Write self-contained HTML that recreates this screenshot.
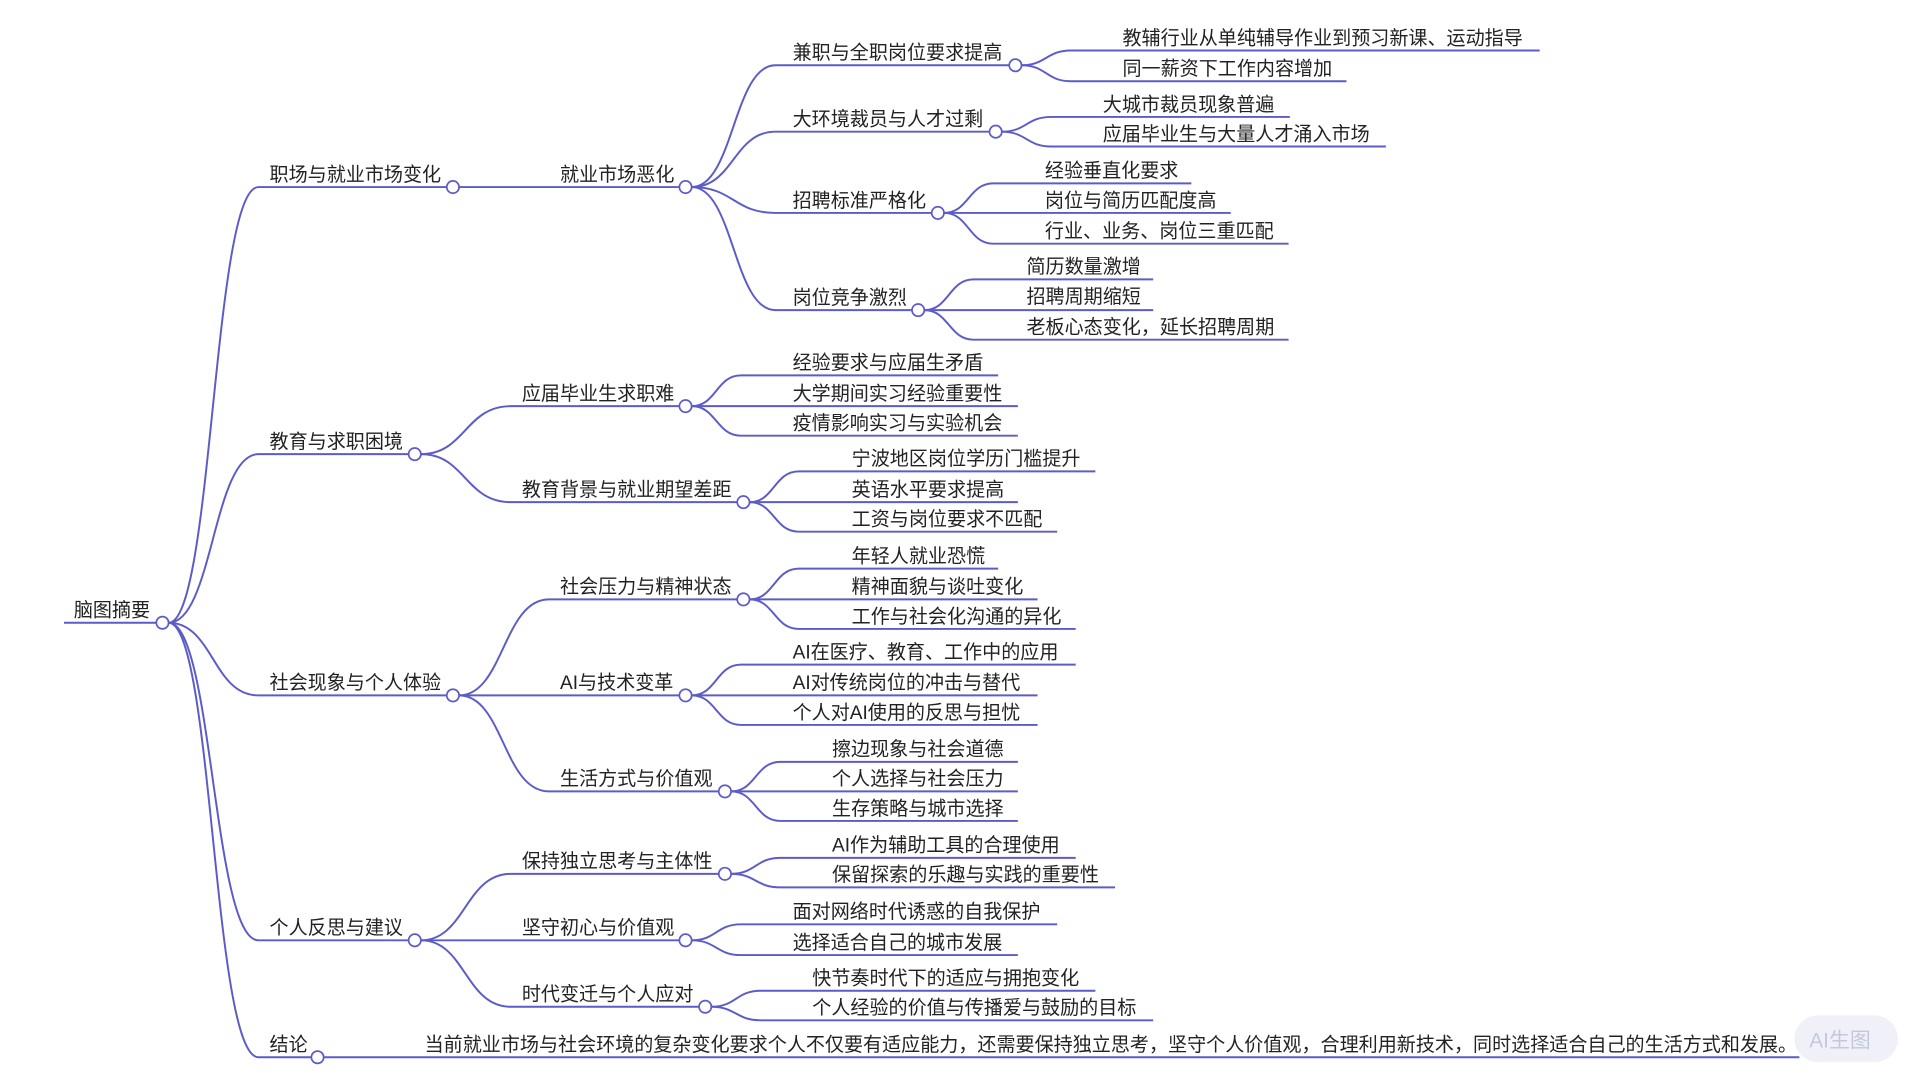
<!DOCTYPE html>
<html><head><meta charset="utf-8"><style>
html,body{margin:0;padding:0;background:#fff;width:1920px;height:1080px;overflow:hidden}
svg text{font-family:"Liberation Sans","Noto Sans CJK SC",sans-serif;font-size:15.5px;fill:#222}
</style></head><body>
<svg width="1920" height="1080" viewBox="0 0 1560 877.5" xmlns="http://www.w3.org/2000/svg">
<g fill="none" stroke="#5c5cc8" stroke-width="1.6">
<path d="M52 506 L127 506"/>
<path d="M137 506 C173 506 173 152 210 152 L363 152"/>
<path d="M373 152 L552 152"/>
<path d="M137 506 C173 506 173 369 210 369 L332 369"/>
<path d="M137 506 C173 506 173 565 210 565 L363 565"/>
<path d="M373 565 L552 565"/>
<path d="M137 506 C173 506 173 764 210 764 L332 764"/>
<path d="M137 506 C173 506 173 859 210 859 L253 859"/>
<path d="M263 859 L1462 859"/>
<path d="M342 369 C378 369 378 330 415 330 L552 330"/>
<path d="M342 369 C378 369 378 408 415 408 L599 408"/>
<path d="M373 565 C409 565 409 487 446 487 L599 487"/>
<path d="M373 565 C409 565 409 643 446 643 L584 643"/>
<path d="M342 764 C378 764 378 710 415 710 L584 710"/>
<path d="M342 764 L552 764"/>
<path d="M342 764 C378 764 378 818 415 818 L568 818"/>
<path d="M562 152 C596 152 596 53 630 53 L820 53"/>
<path d="M562 152 C596 152 596 107 630 107 L804 107"/>
<path d="M562 152 C596 152 596 173 630 173 L757 173"/>
<path d="M562 152 C596 152 596 252 630 252 L741 252"/>
<path d="M830 53 C850 53 850 41 870 41 L1251 41"/>
<path d="M830 53 C850 53 850 66 870 66 L1094 66"/>
<path d="M814 107 C834 107 834 95 854 95 L1048 95"/>
<path d="M814 107 C834 107 834 119 854 119 L1126 119"/>
<path d="M767 173 C787 173 787 149 807 149 L968 149"/>
<path d="M767 173 L1000 173"/>
<path d="M767 173 C787 173 787 198 807 198 L1047 198"/>
<path d="M751 252 C771 252 771 227 791 227 L937 227"/>
<path d="M751 252 L937 252"/>
<path d="M751 252 C771 252 771 276 791 276 L1047 276"/>
<path d="M562 330 C582 330 582 305 602 305 L811 305"/>
<path d="M562 330 L827 330"/>
<path d="M562 330 C582 330 582 354 602 354 L827 354"/>
<path d="M609 408 C629 408 629 383 649 383 L890 383"/>
<path d="M609 408 L827 408"/>
<path d="M609 408 C629 408 629 432 649 432 L859 432"/>
<path d="M609 487 C629 487 629 462 649 462 L811 462"/>
<path d="M609 487 L843 487"/>
<path d="M609 487 C629 487 629 511 649 511 L874 511"/>
<path d="M562 565 C582 565 582 540 602 540 L874 540"/>
<path d="M562 565 L843 565"/>
<path d="M562 565 C582 565 582 589 602 589 L843 589"/>
<path d="M594 643 C614 643 614 619 634 619 L827 619"/>
<path d="M594 643 L827 643"/>
<path d="M594 643 C614 643 614 667 634 667 L827 667"/>
<path d="M594 710 C614 710 614 697 634 697 L874 697"/>
<path d="M594 710 C614 710 614 721 634 721 L906 721"/>
<path d="M562 764 C582 764 582 751 602 751 L859 751"/>
<path d="M562 764 C582 764 582 776 602 776 L827 776"/>
<path d="M578 818 C598 818 598 805 618 805 L890 805"/>
<path d="M578 818 C598 818 598 829 618 829 L937 829"/>
</g>
<g fill="#fff" stroke="#5c5cc8" stroke-width="1.4">
<circle cx="132" cy="506" r="5"/><circle cx="368" cy="152" r="5"/><circle cx="337" cy="369" r="5"/>
<circle cx="368" cy="565" r="5"/><circle cx="337" cy="764" r="5"/><circle cx="258" cy="859" r="5"/>
<circle cx="557" cy="152" r="5"/><circle cx="557" cy="330" r="5"/><circle cx="604" cy="408" r="5"/>
<circle cx="604" cy="487" r="5"/><circle cx="557" cy="565" r="5"/><circle cx="589" cy="643" r="5"/>
<circle cx="589" cy="710" r="5"/><circle cx="557" cy="764" r="5"/><circle cx="573" cy="818" r="5"/>
<circle cx="825" cy="53" r="5"/><circle cx="809" cy="107" r="5"/><circle cx="762" cy="173" r="5"/><circle cx="746" cy="252" r="5"/>
</g>
<text x="60" y="501">脑图摘要</text>
<text x="219" y="147">职场与就业市场变化</text>
<text x="219" y="364">教育与求职困境</text>
<text x="219" y="560">社会现象与个人体验</text>
<text x="219" y="759">个人反思与建议</text>
<text x="219" y="854">结论</text>
<text x="345" y="854">当前就业市场与社会环境的复杂变化要求个人不仅要有适应能力，还需要保持独立思考，坚守个人价值观，合理利用新技术，同时选择适合自己的生活方式和发展。</text>
<text x="455" y="147">就业市场恶化</text>
<text x="424" y="325">应届毕业生求职难</text>
<text x="424" y="403">教育背景与就业期望差距</text>
<text x="455" y="482">社会压力与精神状态</text>
<text x="455" y="560">AI与技术变革</text>
<text x="455" y="638">生活方式与价值观</text>
<text x="424" y="705">保持独立思考与主体性</text>
<text x="424" y="759">坚守初心与价值观</text>
<text x="424" y="813">时代变迁与个人应对</text>
<text x="644" y="48">兼职与全职岗位要求提高</text>
<text x="644" y="102">大环境裁员与人才过剩</text>
<text x="644" y="168">招聘标准严格化</text>
<text x="644" y="247">岗位竞争激烈</text>
<text x="912" y="36">教辅行业从单纯辅导作业到预习新课、运动指导</text>
<text x="912" y="61">同一薪资下工作内容增加</text>
<text x="896" y="90">大城市裁员现象普遍</text>
<text x="896" y="114">应届毕业生与大量人才涌入市场</text>
<text x="849" y="144">经验垂直化要求</text>
<text x="849" y="168">岗位与简历匹配度高</text>
<text x="849" y="193">行业、业务、岗位三重匹配</text>
<text x="834" y="222">简历数量激增</text>
<text x="834" y="246">招聘周期缩短</text>
<text x="834" y="271">老板心态变化，延长招聘周期</text>
<text x="644" y="300">经验要求与应届生矛盾</text>
<text x="644" y="325">大学期间实习经验重要性</text>
<text x="644" y="349">疫情影响实习与实验机会</text>
<text x="692" y="378">宁波地区岗位学历门槛提升</text>
<text x="692" y="403">英语水平要求提高</text>
<text x="692" y="427">工资与岗位要求不匹配</text>
<text x="692" y="457">年轻人就业恐慌</text>
<text x="692" y="482">精神面貌与谈吐变化</text>
<text x="692" y="506">工作与社会化沟通的异化</text>
<text x="644" y="535">AI在医疗、教育、工作中的应用</text>
<text x="644" y="560">AI对传统岗位的冲击与替代</text>
<text x="644" y="584">个人对AI使用的反思与担忧</text>
<text x="676" y="614">擦边现象与社会道德</text>
<text x="676" y="638">个人选择与社会压力</text>
<text x="676" y="662">生存策略与城市选择</text>
<text x="676" y="692">AI作为辅助工具的合理使用</text>
<text x="676" y="716">保留探索的乐趣与实践的重要性</text>
<text x="644" y="746">面对网络时代诱惑的自我保护</text>
<text x="644" y="771">选择适合自己的城市发展</text>
<text x="660" y="800">快节奏时代下的适应与拥抱变化</text>
<text x="660" y="824">个人经验的价值与传播爱与鼓励的目标</text>
<rect x="1458" y="825" width="84" height="38" rx="19" fill="#eef0f7" opacity="0.9"/>
<text x="1470" y="851" style="fill:#c4c8de;font-size:17px">AI生图</text>
</svg>
</body></html>
